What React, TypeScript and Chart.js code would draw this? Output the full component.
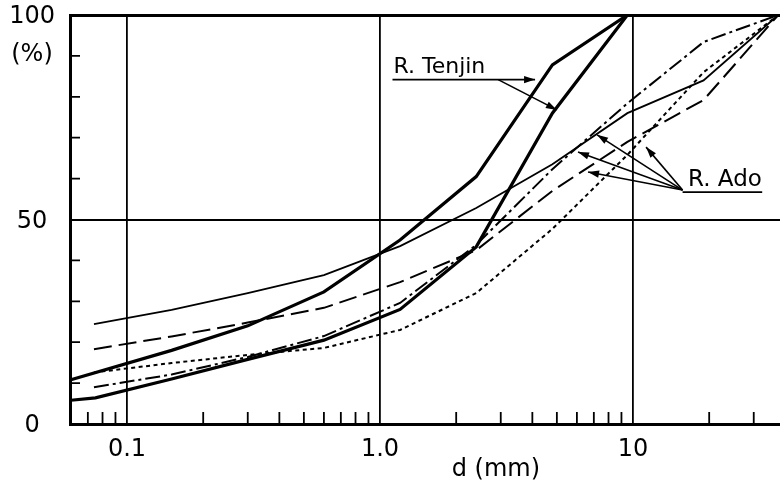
import React, { useEffect, useRef } from "react";
import { Chart, registerables } from "chart.js";

Chart.register(...registerables);

// ---------- data ----------
const sieveTenjin1 = [0.06, 0.15, 0.3, 0.6, 1.2, 2.4, 4.8, 9.5];
const passTenjin1 = [10.8, 18, 24, 32.3, 45, 60.5, 87.8, 100];

const sieveTenjin2 = [0.06, 0.075, 0.15, 0.3, 0.6, 1.2, 2.4, 4.8, 9.5];
const passTenjin2 = [5.8, 6.4, 11, 15.8, 20.5, 28, 43.3, 76, 100];

const sieveAdo = [0.074, 0.15, 0.3, 0.6, 1.2, 2.4, 4.8, 9.5, 19, 37.5];
const passAdoSolid = [24.4, 27.9, 32, 36.4, 43.5, 52.8, 63.5, 76, 84, 100];
const passAdoDash = [18.3, 21.4, 24.8, 28.4, 34.7, 42.5, 57, 69, 79.2, 100];
const passAdoDashDot = [9, 12.1, 16.4, 21.5, 29.6, 43.8, 62.3, 78.4, 93.4, 100];
const passAdoDot = [12.6, 14.9, 16.9, 18.6, 23, 32, 47.7, 65.8, 86, 100];

const xMajor = [0.1, 1, 10];
const xMajorLabels = ["0.1", "1.0", "10"];
const xMinor = [0.07, 0.08, 0.09, 0.2, 0.3, 0.4, 0.5, 0.6, 0.7, 0.8, 0.9, 2, 3, 4, 5, 6, 7, 8, 9, 20, 30];
const yLabelValues = [0, 50, 100];
const yMinor = [10, 20, 30, 40, 60, 70, 80, 90];

const FONT = "'DejaVu Sans', sans-serif";

function pts(xs: number[], ys: number[]) {
  return xs.map((x, i) => ({ x, y: ys[i] }));
}

function arrow(ctx: CanvasRenderingContext2D, x0: number, y0: number, x1: number, y1: number, head: boolean) {
  ctx.beginPath();
  ctx.moveTo(x0, y0);
  ctx.lineTo(x1, y1);
  ctx.stroke();
  if (!head) return;
  const ang = Math.atan2(y1 - y0, x1 - x0);
  const L = 11, W = 3.6;
  ctx.beginPath();
  ctx.moveTo(x1, y1);
  ctx.lineTo(x1 - L * Math.cos(ang) + W * Math.sin(ang), y1 - L * Math.sin(ang) - W * Math.cos(ang));
  ctx.lineTo(x1 - L * Math.cos(ang) - W * Math.sin(ang), y1 - L * Math.sin(ang) + W * Math.cos(ang));
  ctx.closePath();
  ctx.fill();
}

const decor = {
  id: "decor",
  afterDatasetsDraw(chart: any) {
    const { ctx, chartArea: a, scales } = chart;
    const x = scales.x, y = scales.y;
    const X = (v: number) => x.getPixelForValue(v);
    const Y = (v: number) => y.getPixelForValue(v);
    ctx.save();
    ctx.strokeStyle = "#000";
    ctx.fillStyle = "#000";
    ctx.setLineDash([]);
    // inward minor ticks
    ctx.lineWidth = 1.8;
    ctx.beginPath();
    xMinor.forEach((v) => {
      const px = X(v);
      ctx.moveTo(px, a.bottom);
      ctx.lineTo(px, a.bottom - 12);
    });
    yMinor.forEach((v) => {
      const py = Y(v);
      ctx.moveTo(a.left, py);
      ctx.lineTo(a.left + 10, py);
    });
    ctx.stroke();

    // axis texts
    ctx.font = `24px ${FONT}`;
    ctx.textAlign = "center";
    ctx.textBaseline = "middle";
    ctx.fillText("(%)", a.left - 38, Y(90.2));
    ctx.fillText("d (mm)", X(2.87), a.bottom + 46);

    // R. Tenjin annotation
    ctx.font = `22px ${FONT}`;
    ctx.lineWidth = 1.6;
    ctx.textAlign = "left";
    ctx.textBaseline = "alphabetic";
    ctx.fillText("R. Tenjin", X(1.13), Y(85.8));
    arrow(ctx, X(1.12), Y(84.2), X(4.1), Y(84.2), true);
    arrow(ctx, X(2.93), Y(84.2), X(5.0), Y(76.8), true);

    // R. Ado annotation
    ctx.font = `23px ${FONT}`;
    ctx.fillText("R. Ado", X(16.5), Y(58.2));
    arrow(ctx, X(15.7), Y(56.7), X(32.4), Y(56.7), false);
    const ox = X(15.7), oy = Y(57.2);
    [[7.21, 70.7], [6.06, 66.5], [6.64, 61.6], [11.26, 67.7]].forEach(([d, p]) => {
      arrow(ctx, ox, oy, X(d), Y(p), true);
    });
    ctx.restore();
  },
};

export default function App() {
  const ref = useRef<HTMLCanvasElement>(null);
  useEffect(() => {
    const base = { borderColor: "#000", backgroundColor: "#000", pointRadius: 0, tension: 0, fill: false };
    const chart = new Chart(ref.current!, {
      type: "line",
      data: {
        datasets: [
          { ...base, label: "Tenjin 1", data: pts(sieveTenjin1, passTenjin1), borderWidth: 3.2 },
          { ...base, label: "Tenjin 2", data: pts(sieveTenjin2, passTenjin2), borderWidth: 3.2 },
          { ...base, label: "Ado 1", data: pts(sieveAdo, passAdoSolid), borderWidth: 1.8 },
          { ...base, label: "Ado 2", data: pts(sieveAdo, passAdoDash), borderWidth: 2, borderDash: [18, 7] },
          { ...base, label: "Ado 3", data: pts(sieveAdo, passAdoDashDot), borderWidth: 2, borderDash: [15, 4, 3, 4] },
          { ...base, label: "Ado 4", data: pts(sieveAdo, passAdoDot), borderWidth: 2, borderDash: [4, 3.5] },
        ],
      } as any,
      options: {
        responsive: false,
        animation: false,
        layout: { padding: { top: 15, right: 0, left: 0, bottom: 0 } },
        plugins: { legend: { display: false }, tooltip: { enabled: false } },
        scales: {
          x: {
            type: "logarithmic",
            min: 0.0595,
            max: 38.1,
            afterBuildTicks: (s: any) => {
              s.ticks = [...xMinor, ...xMajor].sort((p, q) => p - q).map((v) => ({ value: v }));
            },
            afterFit: (s: any) => {
              s.height = 61;
              s.paddingLeft = 0;
              s.paddingRight = 0;
            },
            ticks: {
              autoSkip: false,
              maxRotation: 0,
              padding: 11,
              color: "#000",
              font: { family: FONT, size: 24 },
              callback: (v: any) => {
                const i = xMajor.indexOf(Number(v));
                return i >= 0 ? xMajorLabels[i] : "";
              },
            },
            grid: {
              drawTicks: false,
              color: (c: any) => (c.tick && xMajor.includes(c.tick.value) ? "#000" : "rgba(0,0,0,0)"),
              lineWidth: 1.8,
            },
            border: { display: true, color: "#000", width: 3 },
          },
          y: {
            type: "linear",
            min: 0,
            max: 100,
            afterBuildTicks: (s: any) => {
              s.ticks = yLabelValues.map((v) => ({ value: v }));
            },
            afterFit: (s: any) => {
              s.width = 70;
              s.paddingTop = 0;
              s.paddingBottom = 0;
            },
            ticks: {
              padding: 15,
              crossAlign: "center",
              labelOffset: 2,
              color: "#000",
              font: { family: FONT, size: 24 },
              callback: (v: any) => String(v),
            },
            grid: {
              drawTicks: false,
              color: (c: any) => (c.tick && (c.tick.value === 50 || c.tick.value === 100) ? "#000" : "rgba(0,0,0,0)"),
              lineWidth: (c: any) => (c.tick && c.tick.value === 100 ? 3 : 2),
            },
            border: { display: true, color: "#000", width: 3 },
          },
        },
      } as any,
      plugins: [decor],
    });
    return () => chart.destroy();
  }, []);
  return (
    <div style={{ position: "fixed", left: 0, top: 0, width: 780, height: 485, background: "#fff" }}>
      <canvas ref={ref} width={780} height={485} style={{ display: "block" }} />
    </div>
  );
}
